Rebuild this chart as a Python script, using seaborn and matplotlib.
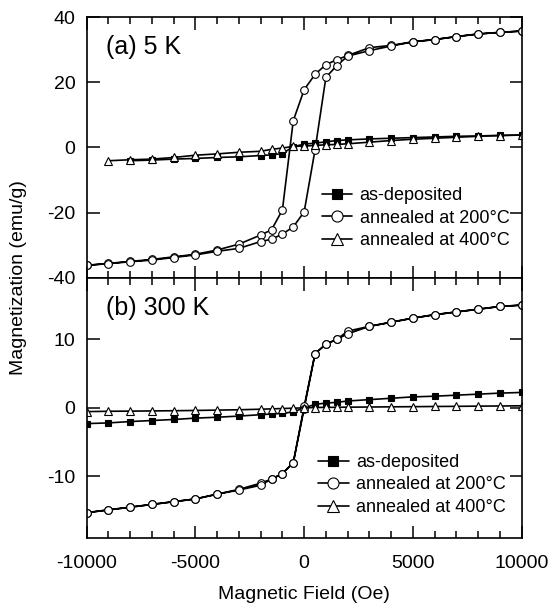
import numpy as np
import pandas as pd
import seaborn as sns
import matplotlib.pyplot as plt
from matplotlib.ticker import MultipleLocator

# field points of one branch (Oe), from -10000 to +10000
field = [-10000, -9000, -8000, -7000, -6000, -5000, -4000, -3000, -2000, -1500,
         -1000, -500, 0, 500, 1000, 1500, 2000, 3000, 4000, 5000, 6000, 7000,
         8000, 9000, 10000]

# (a) 5 K
m5_asdep = [None, None, -4.1, -3.9, -3.6, -3.4, -3.1, -2.9, -2.5, -2.3,
            -1.9, 0.2, 1.0, 1.3, 1.7, 2.1, 2.3, 2.6, 2.8, 3.0, 3.2, 3.4,
            3.5, 3.7, 3.8]
m5_200_up = [-36.2, -35.7, -35.1, -34.6, -33.8, -33.0, -31.9, -31.0, -28.9, -28.2,
             -26.6, -24.4, -19.8, -0.8, 21.5, 25.1, 28.0, 29.7, 31.1, 32.4, 33.1, 34.0,
             34.8, 35.3, 35.7]
m5_200_down = [-36.2, -35.6, -35.0, -34.4, -33.6, -32.8, -31.5, -29.7, -26.9, -25.3,
               -19.2, 8.2, 17.7, 22.4, 25.4, 26.9, 28.2, 30.6, 31.3, 32.4, 33.1, 34.0,
               34.8, 35.3, 35.7]
m5_400 = [None, -4.1, -3.8, -3.6, -3.1, -2.4, -2.0, -1.5, -1.2, -0.6,
          -0.2, 0.3, 0.4, 0.6, 0.8, 0.9, 1.1, 1.6, 2.1, 2.5, 2.8, 3.1,
          3.4, 3.6, 3.8]

# (b) 300 K
m300_asdep = [-2.3, -2.2, -2.0, -1.85, -1.7, -1.5, -1.37, -1.2, -1.0, -0.9,
              -0.8, -0.6, 0.0, 0.5, 0.7, 0.8, 1.0, 1.2, 1.4, 1.6, 1.7, 1.85,
              2.0, 2.15, 2.25]
m300_200_up = [-15.3, -14.9, -14.5, -14.1, -13.7, -13.3, -12.6, -12.0, -11.3, -10.4,
               -9.6, -8.0, -0.1, 7.9, 9.3, 10.0, 10.8, 11.9, 12.5, 13.1, 13.6, 14.0,
               14.4, 14.8, 15.0]
m300_200_down = [-15.3, -14.9, -14.5, -14.1, -13.7, -13.3, -12.6, -11.9, -11.0, -10.4,
                 -9.6, -8.0, 0.2, 7.9, 9.3, 10.0, 11.2, 11.9, 12.5, 13.1, 13.6, 14.0,
                 14.4, 14.8, 15.0]
m300_400 = [-0.55, -0.5, -0.48, -0.45, -0.42, -0.38, -0.33, -0.28, -0.2, -0.15,
            -0.1, -0.05, 0.0, 0.05, 0.07, 0.08, 0.1, 0.12, 0.15, 0.17, 0.2, 0.22,
            0.25, 0.27, 0.3]

labels = ['as-deposited', 'annealed at 200°C', 'annealed at 400°C']

sns.set_theme(style='ticks')
plt.rcParams['font.family'] = ['Liberation Sans', 'DejaVu Sans']
plt.rcParams['text.color'] = 'black'
plt.rcParams['axes.labelcolor'] = 'black'
plt.rcParams['xtick.color'] = 'black'
plt.rcParams['ytick.color'] = 'black'


def loop_frame(up, down):
    # descending branch then ascending branch -> one closed loop
    h = field[::-1] + field
    m = down[::-1] + up
    return pd.DataFrame({'H': h, 'M': m})


def line_frame(m):
    df = pd.DataFrame({'H': field, 'M': m})
    return df.dropna()


def draw_panel(ax, asdep, up, down, m400, leg_anchor):
    style = dict(color='black', linewidth=1.2, markeredgecolor='black',
                 markeredgewidth=0.8, sort=False, estimator=None)
    sns.lineplot(data=line_frame(asdep), x='H', y='M', ax=ax, marker='s',
                 markersize=5, markerfacecolor='black', label=labels[0], **style)
    sns.lineplot(data=loop_frame(up, down), x='H', y='M', ax=ax, marker='o',
                 markersize=5.5, markerfacecolor='white', label=labels[1], **style)
    sns.lineplot(data=line_frame(m400), x='H', y='M', ax=ax, marker='^',
                 markersize=6, markerfacecolor='white', label=labels[2], **style)
    ax.set_xlim(-10000, 10000)
    ax.xaxis.set_major_locator(MultipleLocator(5000))
    ax.xaxis.set_minor_locator(MultipleLocator(1000))
    ax.tick_params(which='both', direction='in', top=True, right=True,
                   width=1.1, labelsize=14, pad=8)
    ax.tick_params(which='major', length=9)
    ax.tick_params(which='minor', length=5)
    ax.tick_params(axis='y', which='minor', left=False, right=False)
    for s in ax.spines.values():
        s.set_linewidth(1.2)
        s.set_color('black')
    ax.set_xlabel('')
    ax.set_ylabel('')
    ax.legend(loc='lower right', bbox_to_anchor=leg_anchor, frameon=False,
              fontsize=13, handlelength=1.7, handletextpad=0.4, markerscale=1.45,
              labelspacing=0.3, borderpad=0, borderaxespad=0)


fig = plt.figure(figsize=(5.52, 6.09), dpi=100)
ax1 = fig.add_axes([0.157, 0.544, 0.788, 0.428])
ax2 = fig.add_axes([0.157, 0.1166, 0.788, 0.4274])

draw_panel(ax1, m5_asdep, m5_200_up, m5_200_down, m5_400, (0.972, 0.11))
ax1.set_ylim(-40, 40)
ax1.set_yticks([-40, -20, 0, 20, 40])
ax1.set_yticklabels(['-40', '-20', '0', '20', '40'])
ax1.tick_params(axis='x', labelbottom=False)
ax1.text(0.045, 0.93, '(a) 5 K', transform=ax1.transAxes, fontsize=18,
         ha='left', va='top')

draw_panel(ax2, m300_asdep, m300_200_up, m300_200_down, m300_400, (0.963, 0.085))
ax2.set_ylim(-19, 19)
ax2.set_yticks([-10, 0, 10])
ax2.set_yticklabels(['-10', '0', '10'])
ax2.set_xticks([-10000, -5000, 0, 5000, 10000])
ax2.set_xticklabels(['-10000', '-5000', '0', '5000', '10000'])
ax2.tick_params(axis='x', pad=12)
ax2.text(0.045, 0.93, '(b) 300 K', transform=ax2.transAxes, fontsize=18,
         ha='left', va='top')
ax2.set_xlabel('Magnetic Field (Oe)', fontsize=14, labelpad=10)

fig.text(0.033, 0.545, 'Magnetization (emu/g)', rotation=90, fontsize=14,
         ha='center', va='center')

fig.savefig('out.png', dpi=100)
